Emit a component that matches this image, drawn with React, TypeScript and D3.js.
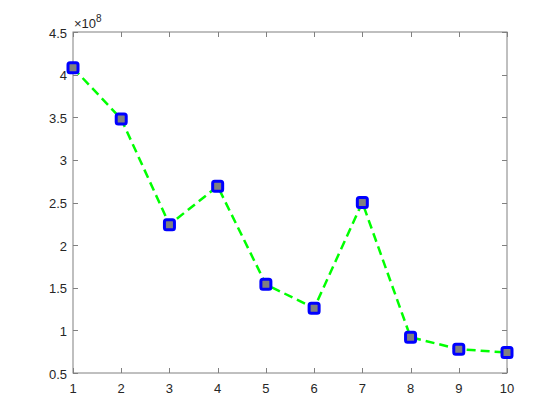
import React, { useEffect, useRef } from "react";
import * as d3 from "d3";

const xValues = [1, 2, 3, 4, 5, 6, 7, 8, 9, 10];
const yValues = [4.08, 3.48, 2.24, 2.69, 1.54, 1.26, 2.5, 0.92, 0.78, 0.74]; // x 1e8
const xTicks = [1, 2, 3, 4, 5, 6, 7, 8, 9, 10];
const yTicks = [0.5, 1, 1.5, 2, 2.5, 3, 3.5, 4, 4.5];

const App = () => {
  const svgRef = useRef<SVGSVGElement>(null);

  useEffect(() => {
    const width = 560;
    const height = 420;
    const margin = { top: 32, right: 53, bottom: 47, left: 73 };
    const w = width - margin.left - margin.right;
    const h = height - margin.top - margin.bottom;

    const root = d3.select(svgRef.current);
    root.selectAll("*").remove();
    root.attr("width", width).attr("height", height);

    root.append("rect").attr("width", width).attr("height", height).attr("fill", "#fff");

    const g = root.append("g").attr("transform", `translate(${margin.left},${margin.top})`);

    const x = d3.scaleLinear().domain([1, 10]).range([0, w]);
    const y = d3.scaleLinear().domain([0.5, 4.5]).range([h, 0]);

    const axisColor = "#808080";
    const font = "Helvetica, Arial, 'Liberation Sans', sans-serif";
    const tl = 5;

    // box
    g.append("rect")
      .attr("width", w)
      .attr("height", h)
      .attr("fill", "#fff")
      .attr("stroke", axisColor)
      .attr("stroke-width", 1);

    // x ticks (inward, top and bottom)
    xTicks.forEach((t) => {
      const px = Math.round(x(t)) + 0.5;
      g.append("line").attr("x1", px).attr("x2", px).attr("y1", h).attr("y2", h - tl).attr("stroke", axisColor);
      g.append("line").attr("x1", px).attr("x2", px).attr("y1", 0).attr("y2", tl).attr("stroke", axisColor);
      g.append("text")
        .attr("x", x(t))
        .attr("y", h + 20)
        .attr("text-anchor", "middle")
        .style("font-family", font)
        .style("font-size", "13px")
        .style("fill", "#262626")
        .text(t);
    });

    // y ticks (inward, left and right)
    yTicks.forEach((t) => {
      const py = Math.round(y(t)) + 0.5;
      g.append("line").attr("x1", 0).attr("x2", tl).attr("y1", py).attr("y2", py).attr("stroke", axisColor);
      g.append("line").attr("x1", w).attr("x2", w - tl).attr("y1", py).attr("y2", py).attr("stroke", axisColor);
      g.append("text")
        .attr("x", -6)
        .attr("y", y(t) + 1)
        .attr("dy", "0.35em")
        .attr("text-anchor", "end")
        .style("font-family", font)
        .style("font-size", "13px")
        .style("fill", "#262626")
        .text(t);
    });

    // exponent label
    const exp = g.append("text")
      .attr("x", 1)
      .attr("y", -4)
      .style("font-family", font)
      .style("font-size", "13px")
      .style("fill", "#262626");
    exp.append("tspan").text("\u00d710");
    exp.append("tspan").attr("dy", -6).style("font-size", "10px").text("8");

    const pts = xValues.map((v, i) => [x(v), y(yValues[i])] as [number, number]);

    // dashed green line
    g.append("path")
      .attr("d", d3.line()(pts))
      .attr("fill", "none")
      .attr("stroke", "#00ff00")
      .attr("stroke-width", 2.5)
      .attr("stroke-dasharray", "9,5");

    // square markers
    const s = 10;
    g.selectAll(".mk")
      .data(pts)
      .join("rect")
      .attr("class", "mk")
      .attr("x", (d) => d[0] - s / 2)
      .attr("y", (d) => d[1] - s / 2)
      .attr("width", s)
      .attr("height", s)
      .attr("rx", 2)
      .attr("fill", "#808080")
      .attr("stroke", "#0000ff")
      .attr("stroke-width", 3);
  }, []);

  return <svg ref={svgRef} style={{ position: "absolute", left: 0, top: 0 }}></svg>;
};

export default App;
